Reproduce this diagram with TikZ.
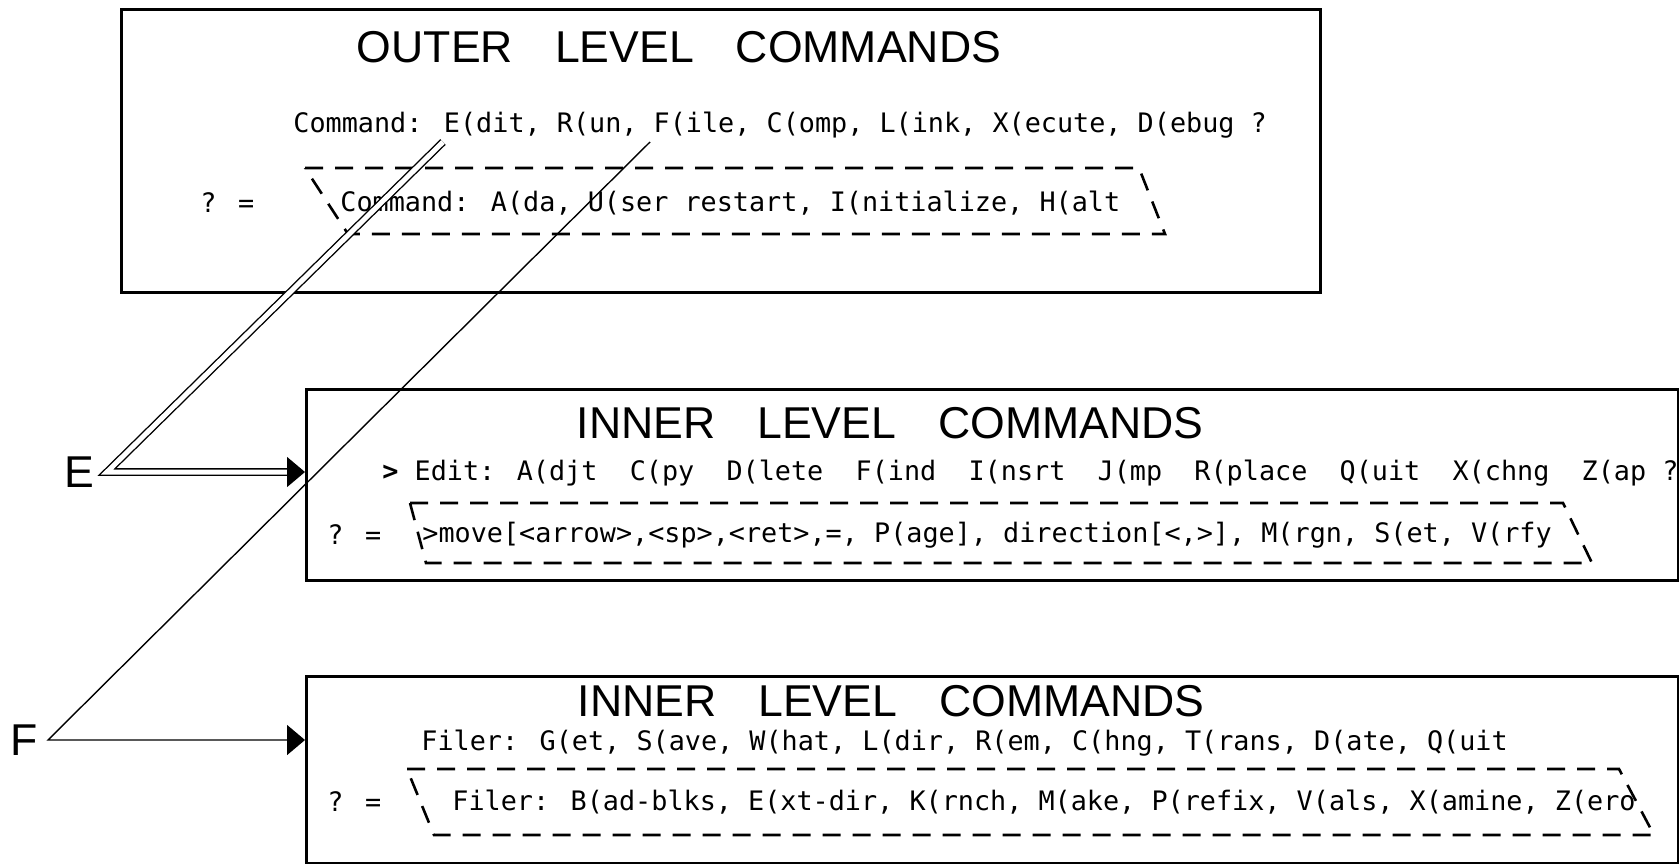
\documentclass[tikz,border=0pt]{standalone}
\usepackage{fontspec}
\setmainfont{Liberation Sans}
\newfontfamily\termfont{DejaVu Sans Mono}
\usetikzlibrary{arrows.meta,positioning}

\begin{document}
\begin{tikzpicture}[x=0.5pt,y=-0.5pt,
        >={Triangle[length=9pt,width=15pt]},
        levelbox/.style={draw,line width=1.6pt,inner sep=0pt,anchor=north west},
        heading/.style={font=\fontsize{22.3}{26}\selectfont,inner sep=0pt},
        prompt/.style={font={\termfont\fontsize{13.4}{16}\selectfont},inner sep=0pt,anchor=west},
        choice/.style={draw,line width=1.3pt,dash pattern=on 9pt off 6pt},
        link/.style={line width=0.7pt}]
    \useasboundingbox (0,0) rectangle (1679,863);

    % outer level
    \node [levelbox,minimum width=599.5pt,minimum height=141.5pt] (outer) at (120,8) {};
    \node [heading] (outertitle) at (679,47) {OUTER\hspace{21pt}LEVEL\hspace{21pt}COMMANDS};
    \node [prompt] (cmd) at (293,125) {Command: E(dit, R(un, F(ile, C(omp, L(ink, X(ecute, D(ebug ?};
    \draw [choice] (305,168) -- (1139,168) -- (1165,234) -- (348,234) -- cycle;
    \node [prompt] (cmdq) at (200,203) {? =};
    \node [prompt] (cmdmore) at (340,203) {Command: A(da, U(ser restart, I(nitialize, H(alt};

    % editor level
    \node [levelbox,minimum width=686pt,minimum height=95.5pt] (editor) at (305,388) {};
    \node [heading] (edittitle) at (890,423) {INNER\hspace{21pt}LEVEL\hspace{21pt}COMMANDS};
    \node [prompt] (edit) at (382,473) {{\bfseries >} Edit: A(djt~~C(py~~D(lete~~F(ind~~I(nsrt~~J(mp~~R(place~~Q(uit~~X(chng~~Z(ap ?};
    \draw [choice] (410,503) -- (1563,503) -- (1592,563) -- (426,563) -- cycle;
    \node [prompt] (editq) at (327,535) {? =};
    \node [prompt] (editmore) at (422,535) {>move[<arrow>,<sp>,<ret>,=, P(age], direction[<,>], M(rgn, S(et, V(rfy};

    % filer level
    \node [levelbox,minimum width=686pt,minimum height=93.5pt] (filer) at (305,675) {};
    \node [heading] (filetitle) at (891,701) {INNER\hspace{21pt}LEVEL\hspace{21pt}COMMANDS};
    \node [prompt] (file) at (421,743) {Filer: G(et, S(ave, W(hat, L(dir, R(em, C(hng, T(rans, D(ate, Q(uit};
    \draw [choice] (407,769) -- (1619,769) -- (1654,835) -- (434,835) -- cycle;
    \node [prompt] (fileq) at (327,802) {? =};
    \node [prompt] (filemore) at (452,802) {Filer: B(ad-blks, E(xt-dir, K(rnch, M(ake, P(refix, V(als, X(amine, Z(ero};

    % links from the outer commands
    \coordinate (Etop) at (443,142);
    \coordinate (Ebend) at (107,472);
    \node [heading] (E) [left=6pt of Ebend] {E};
    \coordinate (Ftop) at (650,142);
    \coordinate (Fbend) at (48,740);
    \node [heading] (F) [left=5pt of Fbend] {F};

    \draw [link,double,double distance=2.5pt,->] (Etop) -- (Ebend) -- (Ebend -| editor.west);
    \draw [link,->] (Ftop) -- (Fbend) -- (Fbend -| filer.west);
\end{tikzpicture}
\end{document}
